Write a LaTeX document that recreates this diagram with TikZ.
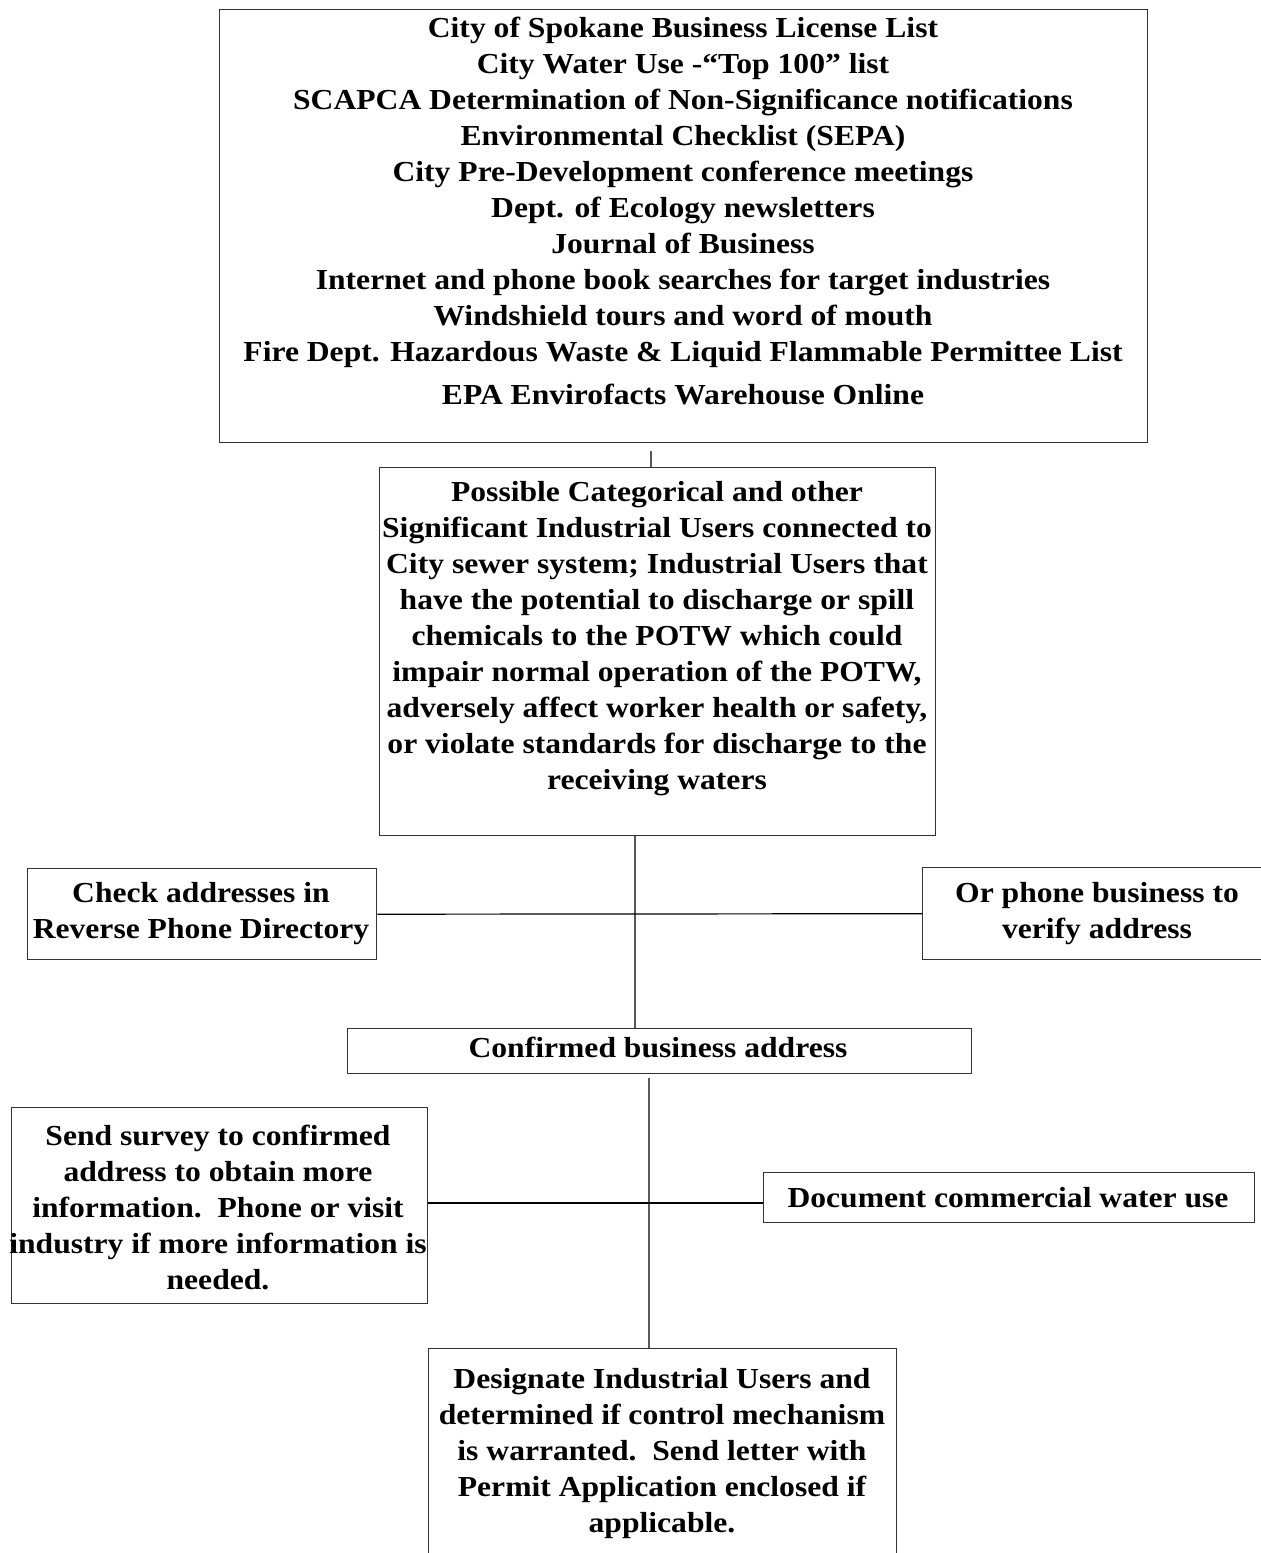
\documentclass[tikz,border=0pt]{standalone}
\usepackage{fontspec}
\setmainfont[FakeStretch=1.09]{Liberation Serif}
\begin{document}
\begin{tikzpicture}[x=0.5pt,y=-0.5pt,
  box/.style={draw=black!80, line width=0.7pt, inner sep=0pt, anchor=north west},
  txt/.style={align=center, inner sep=0pt, font=\bfseries\fontsize{14.5}{18}\selectfont},
  conn/.style={line width=0.6pt, draw=black},
  vconn/.style={line width=0.6pt, draw=black!65}]
\useasboundingbox (0,0) rectangle (1261,1553);
% boxes
\node[box, minimum width=464pt, minimum height=216.5pt] (top) at (219,9) {};
\node[box, minimum width=278pt, minimum height=184pt] (b2) at (379,467) {};
\node[box, minimum width=174.5pt, minimum height=45.5pt] (cl) at (27,868) {};
\node[box, minimum width=175pt, minimum height=46pt] (cr) at (922,867) {};
\node[box, minimum width=312pt, minimum height=22.5pt] (conf) at (347,1028) {};
\node[box, minimum width=208pt, minimum height=98pt] (sl) at (11,1107) {};
\node[box, minimum width=245.5pt, minimum height=25pt] (dr) at (763,1172) {};
\node[box, minimum width=234pt, minimum height=110pt] (bot) at (428,1348) {};
% texts
\node[txt] (ttop) at (683,211) {City of Spokane Business License List\\
City Water Use -``Top 100'' list\\
SCAPCA Determination of Non-Significance notifications\\
Environmental Checklist (SEPA)\\
City Pre-Development conference meetings\\
Dept. of Ecology newsletters\\
Journal of Business\\
Internet and phone book searches for target industries\\
Windshield tours and word of mouth\\
Fire Dept. Hazardous Waste \& Liquid Flammable Permittee List\\[3.5pt]
EPA Envirofacts Warehouse Online};
\node[txt] (tb2) at (657,639) {Possible Categorical and other\\
Significant Industrial Users connected to\\
City sewer system; Industrial Users that\\
have the potential to discharge or spill\\
chemicals to the POTW which could\\
impair normal operation of the POTW,\\
adversely affect worker health or safety,\\
or violate standards for discharge to the\\
receiving waters};
\node[txt] (tcl) at (201,914) {Check addresses in\\Reverse Phone Directory};
\node[txt] (tcr) at (1097,914) {Or phone business to\\verify address};
\node[txt] (tconf) at (658,1047) {Confirmed business address};
\node[txt] (tsl) at (218,1207) {Send survey to confirmed\\
address to obtain more\\
information.\ \ Phone or visit\\
industry if more information is\\
needed.};
\node[txt] (tdr) at (1008,1198) {Document commercial water use};
\node[txt] (tbot) at (662,1454) {Designate Industrial Users and\\
determined if control mechanism\\
is warranted.\ \ Send letter with\\
Permit Application enclosed if\\
applicable.};
% connectors
\coordinate (c1) at (651,451);
\draw[vconn] (c1) -- (b2.north -| c1);
\coordinate (v1) at (635,0);
\draw[vconn] (b2.south -| v1) -- (conf.north -| v1);
\draw[conn] (cl.east) -- (cr.west);
\coordinate (v2) at (649,1078);
\draw[vconn] (v2) -- (bot.north -| v2);
\coordinate (h2) at (0,1203);
\draw[conn] (sl.east |- h2) -- (dr.west |- h2);
\end{tikzpicture}
\end{document}
